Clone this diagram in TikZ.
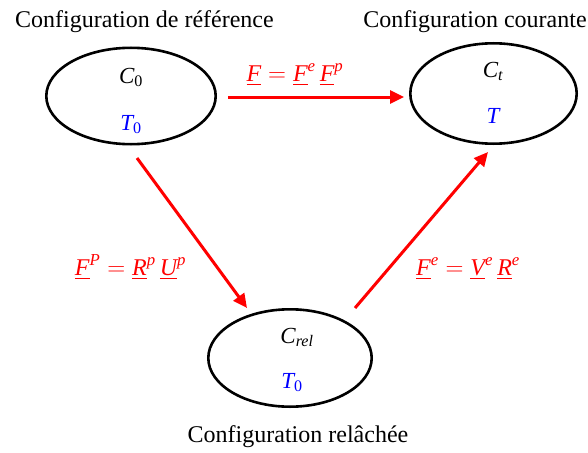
\documentclass[tikz,border=0pt]{standalone}
\usepackage{fontspec}
\usepackage{amsmath}
\setmainfont{Liberation Serif}
\usetikzlibrary{arrows.meta,shapes.geometric}
\newcommand{\vt}[1]{\underline{\textit{#1}}}
\begin{document}
\begin{tikzpicture}[x=1pt,y=-1pt,
  state/.style={draw=black, line width=2.6pt, ellipse, inner sep=0pt},
  title/.style={anchor=base, inner sep=0pt, font=\fontsize{24}{28}\selectfont},
  sym/.style={anchor=base, inner sep=0pt, font=\fontsize{23}{27}\selectfont},
  temp/.style={sym, text=blue},
  rel/.style={anchor=base, inner sep=0pt, text=red, font=\fontsize{24}{28}\selectfont},
  arr/.style={draw=red, line width=3pt, -{Triangle[length=14pt,width=13pt]}}]
\useasboundingbox (0,0) rectangle (588,452);
% states
\node[state, minimum width=169.4pt, minimum height=96.4pt] (e1) at (131,96) {};
\node[state, minimum width=166.4pt, minimum height=100.4pt] (e2) at (493.5,93.5) {};
\node[state, minimum width=163.4pt, minimum height=97.4pt] (e3) at (290,358) {};
% titles
\node[title] (t1) at (144.5,28) {Configuration de référence};
\node[title] (t2) at (475,28) {Configuration courante};
\node[title] (t3) at (298,442) {Configuration relâchée};
% contents
\node[sym] (c0) at (131,83) {$\textit{C}_{\text{0}}$};
\node[temp] (T0a) at (131,130) {$\textit{T}_{\text{0}}$};
\node[sym] (ct) at (493,77) {$\textit{C}_{\textit{t}}$};
\node[temp] (Tt) at (493,123) {$\textit{T}$};
\node[sym] (crel) at (297,343) {$\textit{C}_{\textit{rel}}$};
\node[temp] (T0b) at (292,388) {$\textit{T}_{\text{0}}$};
% connector end points
\coordinate (a1s) at (228,97);
\coordinate (a1e) at (404,97);
\coordinate (a2s) at (137,158);
\coordinate (a2e) at (247,308);
\coordinate (a3s) at (355,308);
\coordinate (a3e) at (488,152);
\draw[arr] (a1s) -- (a1e);
\draw[arr] (a2s) -- (a2e);
\draw[arr] (a3s) -- (a3e);
% labels
\node[rel] (l1) at (295,81) {$\vt{F}=\vt{F}^{\textit{e}}\,\vt{F}^{\textit{p}}$};
\node[rel] (l2) at (130.5,275) {$\vt{F}^{\textit{P}}=\vt{R}^{\textit{p}}\,\vt{U}^{\textit{p}}$};
\node[rel] (l3) at (468,275) {$\vt{F}^{\textit{e}}=\vt{V}^{\textit{e}}\,\vt{R}^{\textit{e}}$};
\end{tikzpicture}
\end{document}
